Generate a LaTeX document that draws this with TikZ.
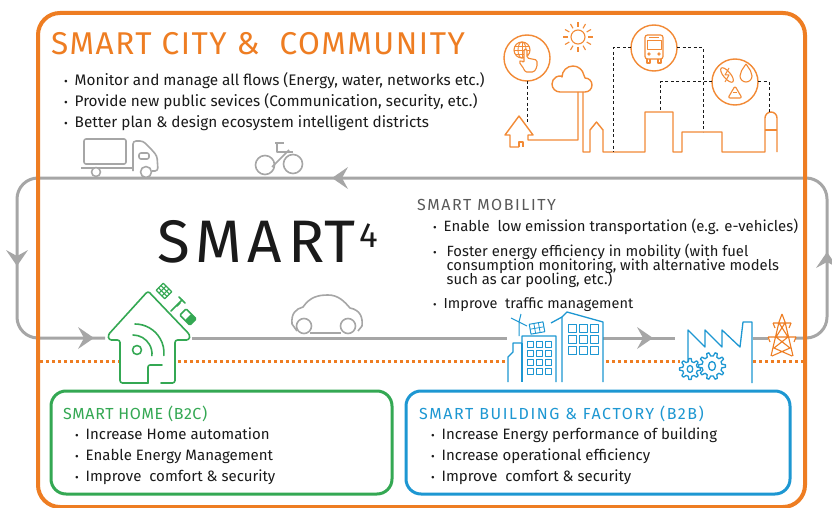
\documentclass[tikz,border=0pt]{standalone}
\usepackage{graphicx}
\usepackage{fontspec}
\setmainfont{Fira Sans}
\usetikzlibrary{calc}
\definecolor{cityorange}{HTML}{EE7D22}
\definecolor{skyorange}{HTML}{F28A36}
\definecolor{loopgray}{HTML}{A6A6A6}
\definecolor{homegreen}{HTML}{34A853}
\definecolor{bizblue}{HTML}{1D97D2}
\definecolor{ink}{HTML}{1A1A1A}
\definecolor{mobgray}{HTML}{595959}
\newcommand{\bp}{\makebox[10.5pt][l]{\scalebox{0.75}{\textbullet}}}
% cog wheel: centre x, centre y, inner radius, outer radius, teeth
\newcommand{\cogwheel}[5]{%
  \pgfmathsetmacro{\cogstep}{360/#5}%
  \draw[factoryline, shift={(#1,#2)}] ({-0.3*\cogstep}:#3)
    \foreach \k in {1,...,#5}{
      -- ({(\k-1)*\cogstep-0.3*\cogstep}:#3)
      -- ({(\k-1)*\cogstep-0.14*\cogstep}:#4)
      -- ({(\k-1)*\cogstep+0.14*\cogstep}:#4)
      -- ({(\k-1)*\cogstep+0.3*\cogstep}:#3)} -- cycle;}
\tikzset{
  txt/.style={inner sep=0pt, anchor=base west, text=ink},
  citytxt/.style={txt, font=\fontsize{15.3}{18}\selectfont},
  mobtxt/.style={txt, font=\fontsize{14.8}{17}\selectfont},
  boxtxt/.style={txt, font=\fontsize{15}{17}\selectfont},
  loopline/.style={draw=loopgray, line width=3pt},
  orangedots/.style={draw=cityorange, line width=3pt, dash pattern=on 3pt off 3pt},
  skyline/.style={draw=skyorange, line width=1.4pt, line join=round},
  linkdash/.style={draw=ink, line width=1pt, dash pattern=on 3pt off 2.5pt},
  vehicle/.style={draw=loopgray, line width=1.6pt, line join=round},
  homeline/.style={draw=homegreen, line width=1.6pt, line join=round, line cap=round},
  factoryline/.style={draw=bizblue, line width=1.3pt, line join=round},
  pylonline/.style={draw=cityorange, line width=1.1pt},
  flowchev/.pic={\fill[loopgray] (-8,-11) -- (8,0) -- (-8,11) -- (-2,0) -- cycle;}
}
\begin{document}
\begin{tikzpicture}[x=1pt,y=-1pt]
\useasboundingbox (0,0) rectangle (832,508);
\fill[white] (0,0) rectangle (832,508);

% ---------- mobility loop ----------
\draw[loopline, rounded corners=21pt] (105,338) -- (17,338) -- (17,178) -- (827,178) -- (827,338) -- (795,338);
\draw[loopline] (192,338) -- (507,338);
\draw[loopline] (603,338) -- (675,338);
\draw[loopline] (753,338) -- (768,338);
\pic at (340,178) [rotate=180] {flowchev};
\pic at (17,258) [rotate=-90] {flowchev};
\pic at (86,338) {flowchev};
\pic at (645,338) {flowchev};
\pic at (827,260) [rotate=90] {flowchev};

% ---------- orange dotted divider ----------
\draw[orangedots] (40,361) -- (120,361);
\draw[orangedots] (178,361) -- (506,361);
\draw[orangedots] (606,361) -- (680,361);
\draw[orangedots] (753,361) -- (803,361);

% ---------- truck ----------
\draw[vehicle, rounded corners=2pt] (84,139) rectangle (126,164);
\draw[vehicle] (81,168) -- (133,168);
\draw[vehicle, rounded corners=3pt] (133,171) -- (133,141) -- (143,141) -- (152,150) -- (157,156) -- (158,171) -- (152,171);
\draw[vehicle, rounded corners=2pt] (139,153) rectangle (149,159);
\draw[vehicle, fill=white] (96,172) circle (4.5);
\draw[vehicle, fill=white] (146,172) circle (5.5);

% ---------- bicycle ----------
\draw[vehicle] (265,165) circle (9.5);
\draw[vehicle] (293,164) circle (9.5);
\draw[vehicle] (275,143) -- (284,143);
\draw[vehicle] (277,143) -- (277,152) -- (293,152);
\draw[vehicle] (272,167) -- (289,150);

% ---------- car ----------
\draw[vehicle] (297,331) -- (292,324) .. controls (291,313) and (296,309) .. (303,307)
  .. controls (310,297) and (318,295) .. (328,295) .. controls (338,295) and (344,301) .. (350,308)
  .. controls (360,310) and (363,317) .. (362,326) -- (358,331);
\draw[vehicle] (310,333) -- (341,333);
\draw[vehicle, fill=white] (304,326) circle (7.5);
\draw[vehicle, fill=white] (348,326) circle (7.5);

% ---------- smart home ----------
\draw[homeline, rounded corners=2pt] (148,383) -- (148,365) -- (162,365);
\draw[homeline, rounded corners=2.5pt] (161,383) -- (175,383) -- (175,340) -- (189,340) -- (190,335) -- (148,291) -- (108,335) -- (109,340) -- (120,340) -- (120,383) -- (148,383);
\draw[homeline] (137,350) circle (4.5);
\draw[homeline] (133,335) arc[start angle=-90, end angle=5, radius=19];
\draw[homeline] (135,324) arc[start angle=-90, end angle=5, radius=29];
\begin{scope}[shift={(164,291)}, rotate=-45]
  \draw[homeline, line width=1.2pt] (-6,-5) rectangle (6,5);
  \draw[homeline, line width=1pt] (-2,-5) -- (-2,5) (2,-5) -- (2,5) (-6,-1.7) -- (6,-1.7) (-6,1.7) -- (6,1.7);
\end{scope}
\draw[homeline] (171,311) -- (182,300);
\draw[homeline] (179,297) -- (185,303) (180,303) -- (177,306);
\begin{scope}[shift={(188,317)}, rotate=-45]
  \draw[homeline, rounded corners=1pt] (-7,-4.5) rectangle (7,4.5);
  \fill[homegreen, rounded corners=1pt] (0,-4.5) rectangle (7,4.5);
\end{scope}

% ---------- buildings ----------
\draw[factoryline] (508,382) -- (508,357) -- (513,352) -- (513,343) -- (522,343) -- (522,336) -- (556,336) -- (556,382);
\draw[factoryline] (522,343) -- (522,382);
\foreach \cx in {527,536,545}
  \foreach \cy in {341,350,359,368}
    \draw[factoryline, line width=1pt] (\cx,\cy) rectangle ++(6,6);
\draw[factoryline] (562,382) -- (562,317) -- (567,312) -- (603,322) -- (603,382);
\draw[factoryline] (551,323) -- (562,317);
\foreach \cx in {568,579,590}
  \foreach \cy in {324,335,346}
    \draw[factoryline, line width=1pt] (\cx,\cy) rectangle ++(8,8);
\begin{scope}[shift={(537,328)}, rotate=10]
  \draw[factoryline, line width=1pt] (-7,-5) rectangle (7,5);
  \draw[factoryline, line width=0.8pt] (-2.3,-5) -- (-2.3,5) (2.3,-5) -- (2.3,5) (-7,0) -- (7,0);
\end{scope}
\draw[factoryline, line width=1pt] (519,336) -- (519,322) (511,318) -- (527,326) (519,322) -- (521,314);

% ---------- factory ----------
\draw[factoryline] (688,362) -- (688,330) -- (705,347) -- (705,330) -- (722,347) -- (722,330) -- (740,347) -- (743,322) -- (752,322) -- (752,383);
\cogwheel{690}{369}{7.5}{10.5}{8}
\cogwheel{712}{366}{10}{13.5}{10}
\draw[factoryline] (690,369) ellipse[x radius=2.8, y radius=3.5];
\draw[factoryline] (712,366) ellipse[x radius=3.5, y radius=4.5];

% ---------- pylon ----------
\draw[pylonline, line join=round] (782,314) -- (779,322) -- (771,356) (782,314) -- (785,322) -- (793,356)
  (773,323) -- (791,323) (773,323) -- (775,328) (791,323) -- (789,328)
  (768,337) -- (796,337) (768,337) -- (770,342) (796,337) -- (794,342)
  (779,323) -- (788,337) -- (774,348) -- (792,356)
  (785,323) -- (776,337) -- (790,348) -- (772,356);

% ---------- city skyline ----------
\draw[skyline] (519,147) -- (510,147) -- (510,135) -- (505,135) -- (519,116) -- (533,135) -- (528,135) -- (528,140) -- (578,140) -- (578,92);
\draw[skyline] (519,147) -- (519,142) -- (523,142) -- (523,147);
\draw[skyline] (560,92) arc[start angle=90, end angle=280, radius=8] -- (562,77)
  arc[start angle=180, end angle=350, radius=11] -- (585,78)
  arc[start angle=270, end angle=450, radius=7] -- cycle;
\draw[skyline] (583,92) -- (583,152) -- (590,152) -- (590,130) -- (596.5,122) -- (603,130) -- (603,152) -- (645,152) -- (645,112) -- (673,112) -- (673,152) -- (682,152) -- (682,132) -- (722,132) -- (722,152) -- (765,152) -- (765,118) arc[start angle=180, end angle=360, radius=6] -- (777,152);
\draw[skyline] (765,130) -- (777,130);
% sun
\draw[skyline, line width=1.1pt] (578,37) circle (7);
\foreach \a in {0,30,...,330}
  \draw[skyline, line width=1.1pt] (\a:10) ++(578,37) -- ++(\a:5);
% service circles
\draw[skyline] (527,58) circle (23);
\draw[skyline] (654,48) circle (23);
\draw[skyline] (735,82) circle (23);
% globe and hand
\draw[skyline, line width=1.1pt] (522,50) circle (8);
\draw[skyline, line width=0.9pt] (514,50) -- (530,50) (515,46) -- (529,46) (515,54) -- (529,54) (522,42) -- (522,58);
\draw[skyline, line width=0.9pt] (522,50) ellipse[x radius=4, y radius=8];
\draw[skyline, line width=1.1pt, fill=white, rounded corners=1.5pt] (524,69) -- (519,62) -- (521,60) -- (524,63) -- (524,49) -- (527,49) -- (527,58) -- (537,60) -- (537,67) -- (534,72) -- (525,72) -- cycle;
% bus
\draw[skyline, line width=1.2pt, rounded corners=2.5pt] (645,35) rectangle (663,59);
\draw[skyline, line width=1pt] (647,41) rectangle (661,50) (649,38) -- (659,38);
\draw[skyline, line width=1pt] (649,54) circle (1.2) (659,54) circle (1.2);
\draw[skyline, line width=1.2pt] (647,59) -- (647,63) -- (650,63) -- (650,59) (658,59) -- (658,63) -- (661,63) -- (661,59);
% energy, water and recycling
\draw[skyline, line width=1.1pt] (746,64) .. controls (742,70) and (740,72) .. (740,76) arc[start angle=180, end angle=0, radius=6] .. controls (752,72) and (750,70) .. (746,64);
\draw[skyline, line width=1.1pt, rotate around={-50:(727,75)}] (727,75) ellipse[x radius=9, y radius=3.5];
\draw[skyline, line width=1pt] (729,68) -- (725,75) -- (729,75) -- (725,82);
\draw[skyline, line width=1.1pt, rounded corners=2pt] (728,98) -- (735,86) -- (742,98) -- cycle;
\draw[skyline, line width=1pt] (733,93) -- (737,93);
% service links
\draw[linkdash] (527,81) -- (527,122);
\draw[linkdash] (631,48) -- (613,48) -- (613,152);
\draw[linkdash] (677,48) -- (703,48) -- (703,132);
\draw[linkdash] (712,82) -- (660,82) -- (660,112);
\draw[linkdash] (758,82) -- (769,82) -- (769,112);

% ---------- outer frame ----------
\draw[cityorange, line width=4pt, rounded corners=22pt] (38,13) rectangle (805,507);

% ---------- texts ----------
\node[txt, text=cityorange, font=\fontsize{31.5}{36}\selectfont\addfontfeatures{LetterSpace=5}] (cityhead) at (51,55) {SMART CITY \&\ \ COMMUNITY};
\node[citytxt] (city1) at (64,86) {\bp Monitor and manage all flows (Energy, water, networks etc.)};
\node[citytxt] (city2) at (64,107) {\bp Provide new public sevices (Communication, security, etc.)};
\node[citytxt] (city3) at (64,128) {\bp Better plan \& design ecosystem intelligent districts};

\node[txt, font=\fontsize{60}{66}\selectfont] (smart) at (157,262) {{\addfontfeatures{LetterSpace=10}SMAR}T\hspace{4pt}\raisebox{15pt}{\fontsize{35}{36}\selectfont 4}};

\node[txt, text=mobgray, font=\fontsize{16}{19}\selectfont\addfontfeatures{LetterSpace=10}] (mobhead) at (417,210) {SMART MOBILITY};
\node[txt, font=\fontsize{14.9}{17}\selectfont] (mob1) at (433,231) {\bp Enable\ \ low emission transportation (e.g. e-vehicles)};
\node[mobtxt] (mob2) at (433,256) {\bp\hspace{3pt}Foster energy efficiency in mobility (with fuel};
\node[mobtxt] (mob3) at (446.5,270) {consumption monitoring, with alternative models};
\node[mobtxt] (mob4) at (446.5,284) {such as car pooling, etc.)};
\node[txt, font=\fontsize{14.5}{17}\selectfont] (mob5) at (433,308) {\bp Improve\ \ traffic management};

\draw[homegreen, line width=3pt, rounded corners=15pt] (51,391) rectangle (392,494);
\node[txt, text=homegreen, font=\fontsize{16}{19}\selectfont\addfontfeatures{LetterSpace=4}] (homehead) at (63,419) {SMART HOME (B2C)};
\node[boxtxt] (home1) at (75,439) {\bp Increase Home automation};
\node[boxtxt] (home2) at (75,460) {\bp Enable Energy Management};
\node[boxtxt] (home3) at (75,481) {\bp Improve\ \ comfort \& security};

\draw[bizblue, line width=3pt, rounded corners=15pt] (406,391) rectangle (790,494);
\node[txt, text=bizblue, font=\fontsize{16}{19}\selectfont\addfontfeatures{LetterSpace=10}] (bizhead) at (419,419) {SMART BUILDING \& FACTORY (B2B)};
\node[boxtxt] (biz1) at (431,439) {\bp Increase Energy performance of building};
\node[boxtxt] (biz2) at (431,460) {\bp Increase operational efficiency};
\node[boxtxt] (biz3) at (431,481) {\bp Improve\ \ comfort \& security};
\end{tikzpicture}
\end{document}
